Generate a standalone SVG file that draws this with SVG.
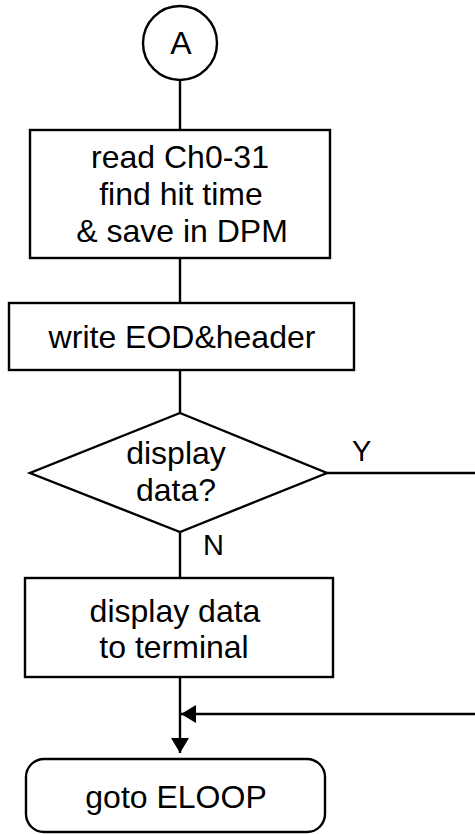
<svg xmlns="http://www.w3.org/2000/svg" width="475" height="834" viewBox="0 0 475 834">
  <defs>
    <style>
      .shape { fill: #ffffff; stroke: #000000; stroke-width: 2.4; }
      .line { fill: none; stroke: #000000; stroke-width: 2.4; }
      .label { font-family: "Liberation Sans", Arial, sans-serif; font-size: 32px; fill: #000000; text-anchor: middle; }
      .tag { font-family: "Liberation Sans", Arial, sans-serif; font-size: 29px; fill: #000000; }
    </style>
    <marker id="arrow" markerWidth="16" markerHeight="18" refX="15" refY="9" orient="auto" markerUnits="userSpaceOnUse">
      <path d="M0,0 L15,9 L0,18 Z" fill="#000000"/>
    </marker>
  </defs>

  <!-- connectors -->
  <g id="connectors">
    <line class="line" x1="180" y1="80" x2="180" y2="130"/>
    <line class="line" x1="180" y1="258" x2="180" y2="303"/>
    <line class="line" x1="180" y1="370" x2="180" y2="413"/>
    <line class="line" x1="180" y1="532" x2="180" y2="578"/>
    <line class="line" x1="327" y1="473" x2="475" y2="473"/>
    <line class="line" x1="180" y1="677" x2="180" y2="753" marker-end="url(#arrow)"/>
    <line class="line" x1="475" y1="714" x2="181" y2="714" marker-end="url(#arrow)"/>
    <text class="tag" x="352" y="461">Y</text>
    <text class="tag" x="203" y="555">N</text>
  </g>

  <!-- connector A -->
  <g id="start">
    <circle class="shape" cx="180" cy="43" r="37"/>
    <text class="label" x="181" y="54">A</text>
  </g>

  <!-- read channels -->
  <g id="read">
    <rect class="shape" x="30" y="130" width="300" height="128"/>
    <text class="label" x="180" y="168">read Ch0-31</text>
    <text class="label" x="181" y="205">find hit time</text>
    <text class="label" x="182" y="242">&amp; save in DPM</text>
  </g>

  <!-- write header -->
  <g id="write">
    <rect class="shape" x="9" y="303" width="345" height="67"/>
    <text class="label" x="182" y="348">write EOD&amp;header</text>
  </g>

  <!-- decision -->
  <g id="decision">
    <polygon class="shape" points="180,413 327,473 180,532 30,473"/>
    <text class="label" x="176" y="464">display</text>
    <text class="label" x="176" y="501">data?</text>
  </g>

  <!-- display to terminal -->
  <g id="display">
    <rect class="shape" x="25" y="578" width="308" height="99"/>
    <text class="label" x="175" y="622">display data</text>
    <text class="label" x="174" y="658">to terminal</text>
  </g>

  <!-- terminator -->
  <g id="end">
    <rect class="shape" x="26" y="759" width="299" height="73" rx="18" ry="18"/>
    <text class="label" x="176" y="808">goto ELOOP</text>
  </g>
</svg>
